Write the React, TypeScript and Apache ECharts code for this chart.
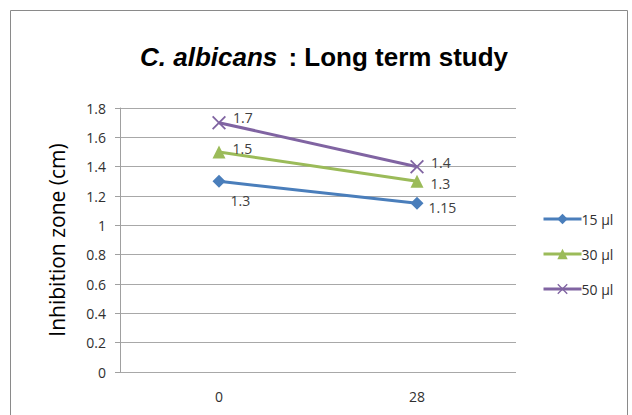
import React, { useEffect, useRef } from "react";
import * as echarts from "echarts";

const categories = ["0", "28"];
const series15 = [1.3, 1.15];
const series30 = [1.5, 1.3];
const series50 = [1.7, 1.4];
const seriesNames = ["15 µl", "30 µl", "50 µl"];
const yTicks = { min: 0, max: 1.8, interval: 0.2 };

const X_PATH =
  "path://M0,0.9 L0.9,0 L5,4.1 L9.1,0 L10,0.9 L5.9,5 L10,9.1 L9.1,10 L5,5.9 L0.9,10 L0,9.1 L4.1,5 Z";

export default function App() {
  const ref = useRef<HTMLDivElement>(null);
  useEffect(() => {
    if (!ref.current) return;
    const chart = echarts.init(ref.current, undefined, { renderer: "svg" });
    const font = "'Open Sans', 'Noto Sans', sans-serif";
    const labelStyle = { color: "#404040", fontSize: 14, fontFamily: font };
    const titleFont = "'Liberation Sans', Arial, sans-serif";
    chart.setOption({
      animation: false,
      backgroundColor: "#ffffff",
      title: {
        text: "{i|C. albicans}{b| : Long term study}",
        left: 319,
        textAlign: "center",
        top: 39,
        textStyle: {
          rich: {
            i: { fontStyle: "italic", fontWeight: "bold", fontSize: 26, fontFamily: titleFont, color: "#000", padding: [0, 4, 0, 0] },
            b: { fontWeight: "bold", fontSize: 26, fontFamily: titleFont, color: "#000" },
          },
        },
      },
      graphic: [
        {
          type: "rect",
          shape: { x: 10.5, y: 10.5, width: 617, height: 420 },
          style: { fill: "none", stroke: "#8a8a8a", lineWidth: 1 },
          silent: true,
        },
      ],
      grid: { left: 120, right: 116, top: 108, bottom: 43 },
      legend: {
        orient: "vertical",
        left: 537,
        top: 207,
        itemWidth: 38,
        itemHeight: 13,
        itemGap: 21,
        lineStyle: { width: 3 },
        textStyle: { color: "#303030", fontSize: 14, fontFamily: font, padding: [0, 0, 0, -5] },
        data: seriesNames,
      },
      xAxis: {
        type: "category",
        data: categories,
        boundaryGap: true,
        axisLine: { show: false },
        axisTick: { show: false },
        axisLabel: { color: "#303030", fontSize: 14, fontFamily: font, margin: 17 },
      },
      yAxis: {
        type: "value",
        min: yTicks.min,
        max: yTicks.max,
        interval: yTicks.interval,
        name: "Inhibition zone (cm)",
        nameLocation: "middle",
        nameGap: 53,
        nameTextStyle: { fontSize: 21, color: "#000", fontFamily: font },
        axisLine: { show: true, lineStyle: { color: "#a0a0a0" } },
        axisTick: { show: true, length: 5, lineStyle: { color: "#a0a0a0" } },
        axisLabel: {
          color: "#303030",
          fontSize: 14,
          fontFamily: font,
          margin: 14,
          formatter: (v: number) => String(Math.round(v * 10) / 10),
        },
        splitLine: { show: true, lineStyle: { color: "#a8a8a8" } },
      },
      series: [
        {
          name: seriesNames[0],
          type: "line",
          data: series15,
          symbol: "diamond",
          symbolSize: 13,
          color: "#4a7ebb",
          lineStyle: { width: 3, color: "#4a7ebb" },
          label: {
            show: true,
            ...labelStyle,
            position: "right",
            formatter: (p: any) => String(p.value),
          },
          labelLayout: (p: any) =>
            p.dataIndex === 0 ? { dx: 0, dy: 19 } : { dx: 0, dy: 4 },
        },
        {
          name: seriesNames[1],
          type: "line",
          data: series30,
          symbol: "triangle",
          symbolSize: 13,
          color: "#9bbb59",
          lineStyle: { width: 3, color: "#9bbb59" },
          label: {
            show: true,
            ...labelStyle,
            position: "right",
            formatter: (p: any) => String(p.value),
          },
          labelLayout: (p: any) =>
            p.dataIndex === 0 ? { dx: 2, dy: -4 } : { dx: 2, dy: 2 },
        },
        {
          name: seriesNames[2],
          type: "line",
          data: series50,
          symbol: X_PATH,
          symbolSize: 14,
          color: "#8064a2",
          lineStyle: { width: 3, color: "#8064a2" },
          label: {
            show: true,
            ...labelStyle,
            position: "right",
            formatter: (p: any) => String(p.value),
          },
          labelLayout: (p: any) =>
            p.dataIndex === 0 ? { dx: 2, dy: -5 } : { dx: 2, dy: -4 },
        },
      ],
    });
    return () => chart.dispose();
  }, []);
  return (
    <div
      ref={ref}
      style={{ position: "fixed", left: 0, top: 0, width: 632, height: 415 }}
    />
  );
}
